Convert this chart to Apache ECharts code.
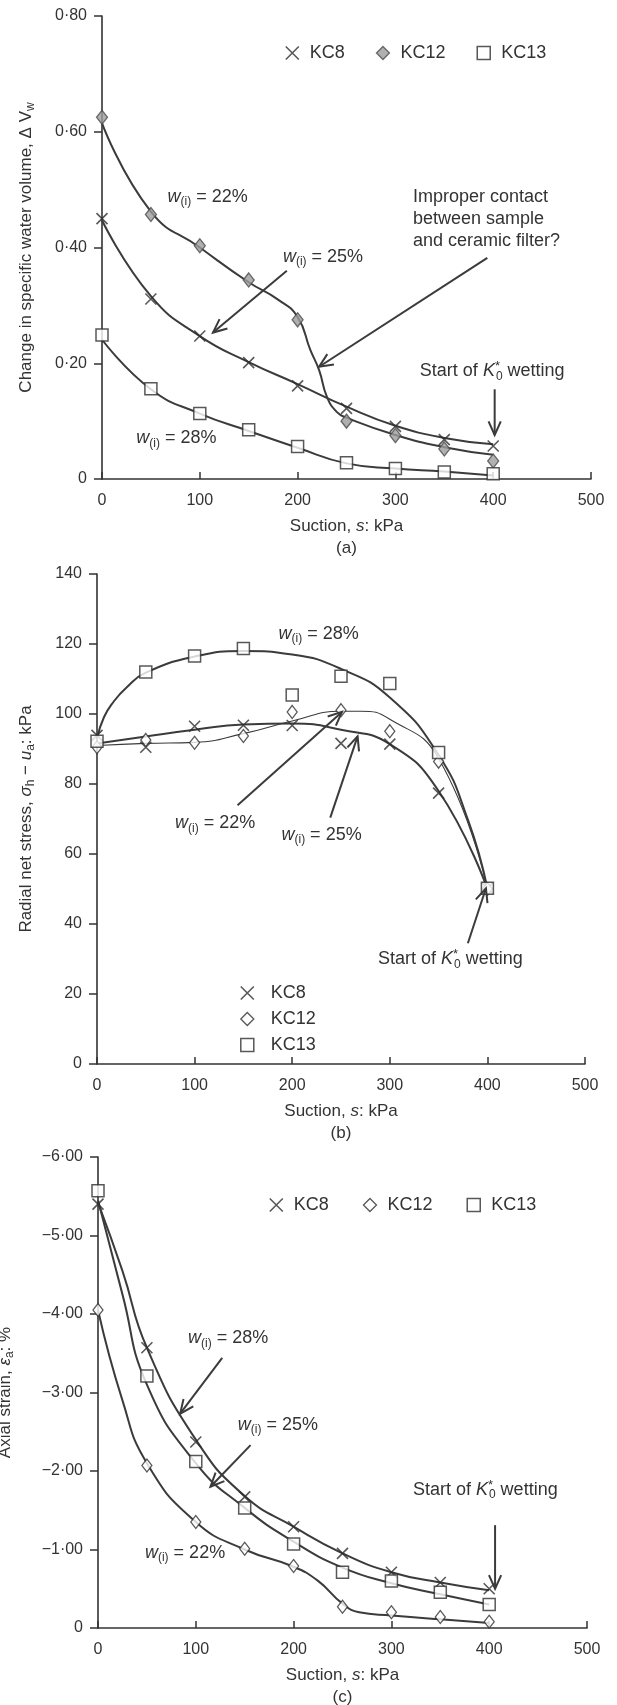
<!DOCTYPE html>
<html><head><meta charset="utf-8">
<script src="https://cdn.jsdelivr.net/npm/echarts@6.0.0/dist/echarts.min.js"></script>
<style>html,body{margin:0;padding:0;background:#fff;}#chart{width:617px;height:1705px;}</style>
</head><body><div id="chart"></div>
<script>
// ---------- data ----------
const suction = [0, 50, 100, 150, 200, 250, 300, 350, 400];
const xTicks = [0, 100, 200, 300, 400, 500];

// (a) change in specific water volume
const dvwKC8  = [0.450, 0.311, 0.247, 0.201, 0.161, 0.122, 0.091, 0.068, 0.057];
const dvwKC12 = [0.625, 0.457, 0.403, 0.344, 0.275, 0.100, 0.075, 0.052, 0.031];
const dvwKC13 = [0.249, 0.156, 0.113, 0.085, 0.056, 0.028, 0.018, 0.012, 0.009];
const fitA8   = [0.447, 0.316, 0.247, 0.202, 0.164, 0.125, 0.092, 0.071, 0.060];
const fitA12x = [0, 50, 100, 150, 180, 200, 213, 222, 230, 240, 250, 300, 350, 400];
const fitA12  = [0.615, 0.462, 0.400, 0.340, 0.310, 0.280, 0.223, 0.188, 0.142, 0.116, 0.106, 0.076, 0.055, 0.042];
const fitA13  = [0.241, 0.155, 0.113, 0.083, 0.054, 0.027, 0.018, 0.013, 0.006];

// (b) radial net stress
const snKC8  = [93.9, 90.5, 96.5, 96.8, 96.7, 91.6, 91.4, 77.4, 50.2];
const snKC12 = [90.5, 92.6, 91.8, 93.7, 100.6, 101.1, 95.1, 86.4, 50.0];
const snKC13 = [92.2, 112.0, 116.6, 118.7, 105.4, 110.8, 108.7, 89.0, 50.2];
const fitB8   = [91.6, 93.6, 95.5, 97.0, 97.3, 95.5, 91.4, 78.0, 50.0];
const fitB12x = [0, 50, 100, 150, 200, 250, 270, 300, 350, 400];
const fitB12  = [91.0, 91.6, 91.9, 94.4, 98.0, 100.8, 100.8, 98.5, 87.3, 50.0];
const fitB13x = [0, 7, 17, 30, 50, 100, 150, 200, 250, 300, 350, 380, 400];
const fitB13  = [93.0, 99.0, 103.5, 107.5, 111.8, 116.4, 118.0, 117.0, 112.9, 104.7, 88.3, 69.8, 50.2];

// (c) axial strain
const esKC8  = [-5.40, -3.57, -2.37, -1.67, -1.29, -0.95, -0.71, -0.58, -0.50];
const esKC12 = [-4.05, -2.07, -1.35, -1.01, -0.79, -0.27, -0.20, -0.14, -0.08];
const esKC13 = [-5.57, -3.21, -2.12, -1.53, -1.07, -0.71, -0.60, -0.455, -0.30];
const fitCx   = [0, 25, 50, 100, 150, 200, 250, 300, 350, 400];
const fitC8   = [-5.42, -4.55, -3.57, -2.40, -1.68, -1.29, -0.95, -0.71, -0.58, -0.48];
const fitC13  = [-5.45, -4.25, -3.10, -2.10, -1.53, -1.10, -0.77, -0.57, -0.43, -0.30];
const fitC12x = [0, 25, 50, 100, 150, 200, 225, 250, 267, 300, 350, 400];
const fitC12  = [-4.05, -2.90, -2.10, -1.35, -1.00, -0.78, -0.60, -0.31, -0.20, -0.16, -0.11, -0.065];

const seriesNames = ['KC8', 'KC12', 'KC13'];

// ---------- styling ----------
const FONT = '"Liberation Sans", Arial, Helvetica, sans-serif';
const INK = '#333';
const LINE = '#3b3b3b';
const XPATH = 'path://M0,0L10,10M10,0L0,10';

const chart = echarts.init(document.getElementById('chart'));
const pairs = (xs, ys) => xs.map((x, i) => [x, ys[i]]);

const nameRich = {
  i:   {fontSize: 17, fontStyle: 'italic', fontFamily: FONT, color: INK, lineHeight: 22, verticalAlign: 'middle'},
  sub: {fontSize: 12, fontFamily: FONT, color: INK, lineHeight: 12, verticalAlign: 'bottom'}
};

const grids = [
  {left: 102, top: 16, width: 489, height: 463, outerBoundsMode: 'none', containLabel: false},
  {left: 97, top: 574, width: 488, height: 490, outerBoundsMode: 'none', containLabel: false},
  {left: 98, top: 1157, width: 489, height: 471, outerBoundsMode: 'none', containLabel: false}
];

function xAxisFor(gi, tag) {
  return {
    gridIndex: gi, type: 'value', min: 0, max: 500, interval: 100,
    axisLine: {lineStyle: {color: INK, width: 1.6}},
    axisTick: {inside: true, length: 7, lineStyle: {color: INK, width: 1.5}},
    axisLabel: {fontSize: 16, color: INK, fontFamily: FONT, margin: 14},
    splitLine: {show: false},
    name: 'Suction, {i|s}: kPa\n' + tag, nameLocation: 'middle', nameGap: 36,
    nameTextStyle: {fontSize: 17, color: INK, fontFamily: FONT, lineHeight: 22, rich: nameRich}
  };
}
function yAxisFor(gi, o) {
  return Object.assign({
    gridIndex: gi, type: 'value',
    axisLine: {show: true, lineStyle: {color: INK, width: 1.6}},
    axisTick: {show: true, inside: false, length: 8, lineStyle: {color: INK, width: 1.5}},
    splitLine: {show: false},
    nameLocation: 'middle',
    nameTextStyle: {fontSize: 17, color: INK, fontFamily: FONT, lineHeight: 22, rich: nameRich}
  }, o);
}
const dot = v => v.toFixed(2).replace('.', '\u00b7');

const symStyles = {
  KC8:  {symbol: XPATH, symbolSize: 11, itemStyle: {color: 'transparent', borderColor: '#2e2e2e', borderWidth: 1.6}},
  KC12o:{symbol: 'diamond', symbolSize: [10, 13], itemStyle: {color: '#fff', borderColor: '#2e2e2e', borderWidth: 1.3}},
  KC12f:{symbol: 'diamond', symbolSize: [11, 14], itemStyle: {color: '#9c9c9c', borderColor: '#4a4a4a', borderWidth: 1.3}},
  KC13: {symbol: 'rect', symbolSize: 12, itemStyle: {color: '#fff', borderColor: '#2e2e2e', borderWidth: 1.5}}
};

function scatter(name, gi, ys, st) {
  return Object.assign({
    type: 'scatter', name, xAxisIndex: gi, yAxisIndex: gi, z: 5,
    data: pairs(suction, ys), silent: true
  }, JSON.parse(JSON.stringify(st)));
}
function fit(gi, xs, ys, w) {
  return {
    type: 'line', xAxisIndex: gi, yAxisIndex: gi, z: 3, silent: true,
    data: pairs(xs, ys), smooth: 0.5,
    showSymbol: false, symbol: 'none',
    lineStyle: {color: LINE, width: w}
  };
}

function legendFor(o, diamond, padLeft) {
  return Object.assign({
    show: true, padding: 0, selectedMode: false,
    itemWidth: 13, itemHeight: 13,
    textStyle: {fontSize: 18, color: INK, fontFamily: FONT, padding: [0, 0, 0, padLeft]},
    data: [
      {name: 'KC8', icon: XPATH, itemStyle: {color: 'transparent', borderColor: '#2e2e2e', borderWidth: 1.6}},
      {name: 'KC12', icon: 'diamond', itemStyle: diamond},
      {name: 'KC13', icon: 'rect', itemStyle: {color: '#fff', borderColor: '#2e2e2e', borderWidth: 1.5}}
    ]
  }, o);
}
const diamondFilled = {color: '#9c9c9c', borderColor: '#4a4a4a', borderWidth: 1.3};
const diamondOpen = {color: '#fff', borderColor: '#2e2e2e', borderWidth: 1.3};

const option = {
  animation: false,
  backgroundColor: '#fff',
  textStyle: {fontFamily: FONT},
  grid: grids,
  xAxis: [xAxisFor(0, '(a)'), xAxisFor(1, '(b)'), xAxisFor(2, '(c)')],
  yAxis: [
    yAxisFor(0, {min: 0, max: 0.8, interval: 0.2,
      axisLabel: {fontSize: 16, color: INK, fontFamily: FONT, margin: 15, formatter: v => v === 0 ? '0' : dot(v)},
      name: 'Change in specific water volume, \u0394 V{sub|w}', nameGap: 65}),
    yAxisFor(1, {min: 0, max: 140, interval: 20,
      axisLabel: {fontSize: 16, color: INK, fontFamily: FONT, margin: 15},
      name: 'Radial net stress, {i|\u03c3}{sub|h} \u2212 {i|u}{sub|a}: kPa', nameGap: 60}),
    yAxisFor(2, {min: -6, max: 0, interval: 1, inverse: true,
      axisLabel: {fontSize: 16, color: INK, fontFamily: FONT, margin: 15,
        formatter: v => v === 0 ? '0' : '\u2212' + dot(Math.abs(v))},
      name: 'Axial strain, {i|\u03b5}{sub|a}: %', nameGap: 82})
  ],
  legend: [
    legendFor({orient: 'horizontal', left: 285, top: 44, itemGap: 31}, diamondFilled, 6),
    legendFor({orient: 'vertical', left: 240, top: 984, itemGap: 8}, diamondOpen, 12),
    legendFor({orient: 'horizontal', left: 269, top: 1196, itemGap: 34}, diamondOpen, 6)
  ],
  series: [
    fit(0, suction, fitA8, 2), fit(0, fitA12x, fitA12, 2), fit(0, suction, fitA13, 2),
    scatter('KC8', 0, dvwKC8, symStyles.KC8),
    scatter('KC12', 0, dvwKC12, symStyles.KC12f),
    scatter('KC13', 0, dvwKC13, symStyles.KC13),

    fit(1, suction, fitB8, 2), fit(1, fitB12x, fitB12, 1.1), fit(1, fitB13x, fitB13, 2),
    scatter('KC8', 1, snKC8, symStyles.KC8),
    scatter('KC12', 1, snKC12, symStyles.KC12o),
    scatter('KC13', 1, snKC13, symStyles.KC13),

    fit(2, fitCx, fitC8, 2), fit(2, fitC12x, fitC12, 2), fit(2, fitCx, fitC13, 2),
    scatter('KC8', 2, esKC8, symStyles.KC8),
    scatter('KC12', 2, esKC12, symStyles.KC12o),
    scatter('KC13', 2, esKC13, symStyles.KC13)
  ]
};
chart.setOption(option);

// ---------- annotations (placed in data coordinates) ----------
const gRich = {
  n:   {fontSize: 18, fontFamily: FONT, fill: INK, lineHeight: 22, verticalAlign: 'middle'},
  i:   {fontSize: 18, fontFamily: FONT, fontStyle: 'italic', fill: INK, lineHeight: 22, verticalAlign: 'middle'},
  sub: {fontSize: 12, fontFamily: FONT, fill: INK, lineHeight: 12, verticalAlign: 'bottom'},
  sup: {fontSize: 13, fontFamily: FONT, fill: INK, lineHeight: 12, verticalAlign: 'top', width: 1}
};
const W = v => '{i|w}{sub|(i)}{n| = ' + v + '%}';
const START = '{n|Start of }{i|K}{sup|*}{sub|0}{n| wetting}';
const notes = [
  {g: 0, at: [67, 0.488], t: W(22)},
  {g: 0, at: [185, 0.384], t: W(25)},
  {g: 0, at: [35, 0.070], t: W(28)},
  {g: 0, at: [318, 0.450], t: '{n|Improper contact}\n{n|between sample}\n{n|and ceramic filter?}'},
  {g: 0, at: [325, 0.186], t: START},
  {g: 1, at: [186, 122.9], t: W(28)},
  {g: 1, at: [80, 68.8], t: W(22)},
  {g: 1, at: [189, 65.5], t: W(25)},
  {g: 1, at: [288, 29.9], t: START},
  {g: 2, at: [92, -3.69], t: W(28)},
  {g: 2, at: [143, -2.59], t: W(25)},
  {g: 2, at: [48, -0.955], t: W(22)},
  {g: 2, at: [322, -1.76], t: START}
];
const arrows = [
  {g: 0, from: [189, 0.360], to: [113.5, 0.253]},
  {g: 0, from: [394, 0.382], to: [222, 0.194]},
  {g: 0, from: [401.5, 0.155], to: [401.5, 0.076]},
  {g: 1, from: [144, 73.9], to: [251, 100.6]},
  {g: 1, from: [239, 70.4], to: [267, 93.6]},
  {g: 1, from: [380, 34.5], to: [398.5, 50.2]},
  {g: 2, from: [127, -3.44], to: [84, -2.73]},
  {g: 2, from: [156, -2.33], to: [115, -1.80]},
  {g: 2, from: [406, -1.31], to: [406, -0.50]}
];
const px = (g, p) => chart.convertToPixel({gridIndex: g}, p);
const graphic = [];
notes.forEach(n => {
  const p = px(n.g, n.at);
  graphic.push({type: 'text', x: p[0], y: p[1], z: 20, silent: true,
    style: {text: n.t, rich: gRich, fill: INK, fontSize: 18, fontFamily: FONT,
      align: 'left', verticalAlign: 'middle', textAlign: 'left', textVerticalAlign: 'middle'}});
});
arrows.forEach(a => {
  const p0 = px(a.g, a.from), p1 = px(a.g, a.to);
  const ang = Math.atan2(p1[1] - p0[1], p1[0] - p0[0]);
  const L = 15, h = 0.42;
  const h1 = [p1[0] - L * Math.cos(ang - h), p1[1] - L * Math.sin(ang - h)];
  const h2 = [p1[0] - L * Math.cos(ang + h), p1[1] - L * Math.sin(ang + h)];
  graphic.push({type: 'polyline', z: 20, silent: true, shape: {points: [p0, p1]},
    style: {stroke: LINE, lineWidth: 2, fill: null}});
  graphic.push({type: 'polyline', z: 20, silent: true, shape: {points: [h1, p1, h2]},
    style: {stroke: LINE, lineWidth: 2, fill: null}});
});
chart.setOption({graphic: graphic});
</script>
</body></html>
